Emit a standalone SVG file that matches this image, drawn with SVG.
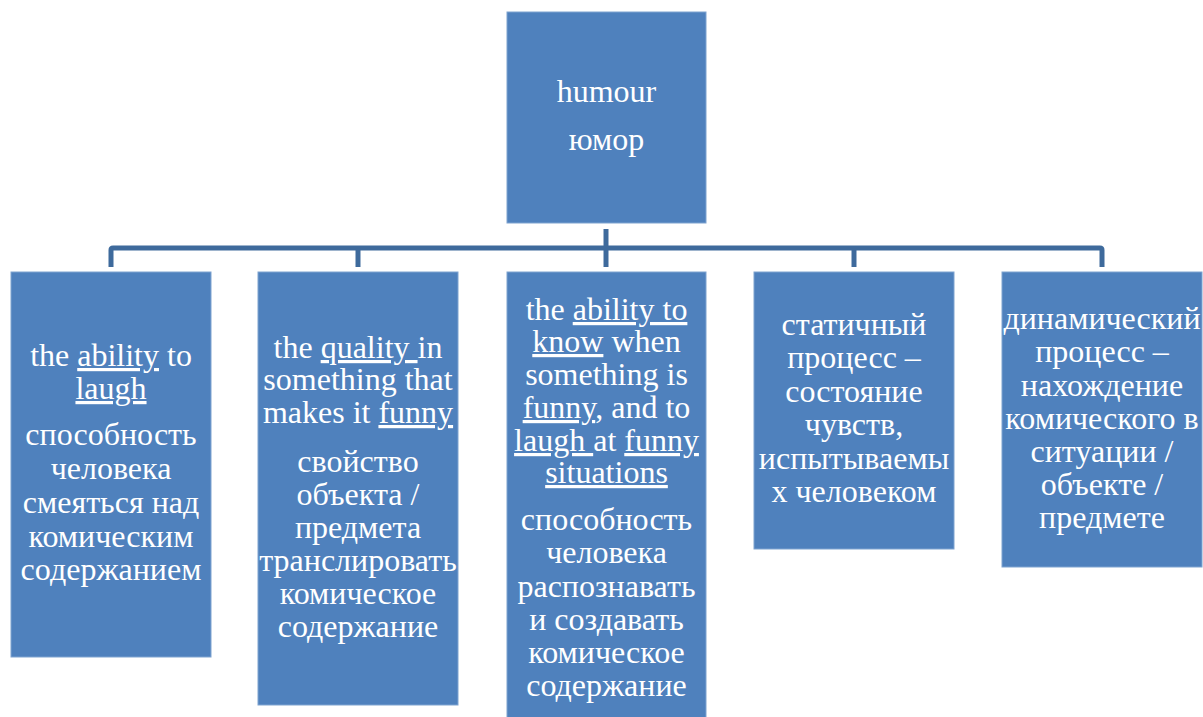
<svg xmlns="http://www.w3.org/2000/svg" width="1203" height="717" viewBox="0 0 1203 717">
<style>
.box{fill:#4F81BD;stroke:#7FA3D0;stroke-width:1}
.t{font-family:"Liberation Serif",Tinos,"Times New Roman",Times,"DejaVu Serif",serif;font-size:32px;fill:#FFFFFF;text-anchor:middle}
.u{text-decoration:underline}
.conn{fill:none;stroke:#3E6A9C;stroke-width:5;stroke-linejoin:round}
</style>
<rect width="1203" height="717" fill="#FFFFFF"/>
<g id="connectors">
<path class="conn" d="M111,267 V250 Q111,248 113,248 H1100 Q1102,248 1102,250 V267"/>
<path class="conn" d="M606,229 V267"/>
<path class="conn" d="M358,248 V267"/>
<path class="conn" d="M854,248 V267"/>
</g>
<g id="root">
<rect class="box" x="507" y="12" width="199" height="211"/>
<text class="t"><tspan x="606.500" y="102">humour</tspan><tspan x="606.500" y="150">юмор</tspan></text>
</g>
<g id="node1">
<rect class="box" x="11" y="272" width="200" height="385"/>
<text class="t"><tspan x="111" y="366">the <tspan class="u">ability</tspan> to</tspan><tspan x="111" y="399" class="u">laugh</tspan><tspan x="111" y="445">способность</tspan><tspan x="111" y="479">человека</tspan><tspan x="111" y="513">смеяться над</tspan><tspan x="111" y="547">комическим</tspan><tspan x="111" y="580">содержанием</tspan></text>
</g>
<g id="node2">
<rect class="box" x="258" y="272" width="200" height="433"/>
<text class="t"><tspan x="358" y="358">the <tspan class="u">quality </tspan>in</tspan><tspan x="358" y="390">something that</tspan><tspan x="358" y="423">makes it <tspan class="u">funny</tspan></tspan><tspan x="358" y="472">свойство</tspan><tspan x="358" y="505">объекта /</tspan><tspan x="358" y="538">предмета</tspan><tspan x="358" y="571">транслировать</tspan><tspan x="358" y="604">комическое</tspan><tspan x="358" y="637">содержание</tspan></text>
</g>
<g id="node3">
<rect class="box" x="507" y="272" width="199" height="446"/>
<text class="t"><tspan x="606.500" y="320">the <tspan class="u">ability to</tspan></tspan><tspan x="606.500" y="352"><tspan class="u">know</tspan> when</tspan><tspan x="606.500" y="385">something is</tspan><tspan x="606.500" y="418"><tspan class="u">funny</tspan>, and to</tspan><tspan x="606.500" y="451"><tspan class="u">laugh </tspan>at <tspan class="u">funny</tspan></tspan><tspan x="606.500" y="483" class="u">situations</tspan><tspan x="606.500" y="530">способность</tspan><tspan x="606.500" y="563">человека</tspan><tspan x="606.500" y="597">распознавать</tspan><tspan x="606.500" y="630">и создавать</tspan><tspan x="606.500" y="663">комическое</tspan><tspan x="606.500" y="696">содержание</tspan></text>
</g>
<g id="node4">
<rect class="box" x="754" y="272" width="200" height="277"/>
<text class="t"><tspan x="854" y="335">статичный</tspan><tspan x="854" y="368">процесс –</tspan><tspan x="854" y="402">состояние</tspan><tspan x="854" y="435">чувств,</tspan><tspan x="854" y="469">испытываемы</tspan><tspan x="854" y="502">х человеком</tspan></text>
</g>
<g id="node5">
<rect class="box" x="1002" y="272" width="200" height="295"/>
<text class="t"><tspan x="1102" y="329">динамический</tspan><tspan x="1102" y="362">процесс –</tspan><tspan x="1102" y="396">нахождение</tspan><tspan x="1102" y="429">комического в</tspan><tspan x="1102" y="462">ситуации /</tspan><tspan x="1102" y="495">объекте /</tspan><tspan x="1102" y="528">предмете</tspan></text>
</g>
</svg>
